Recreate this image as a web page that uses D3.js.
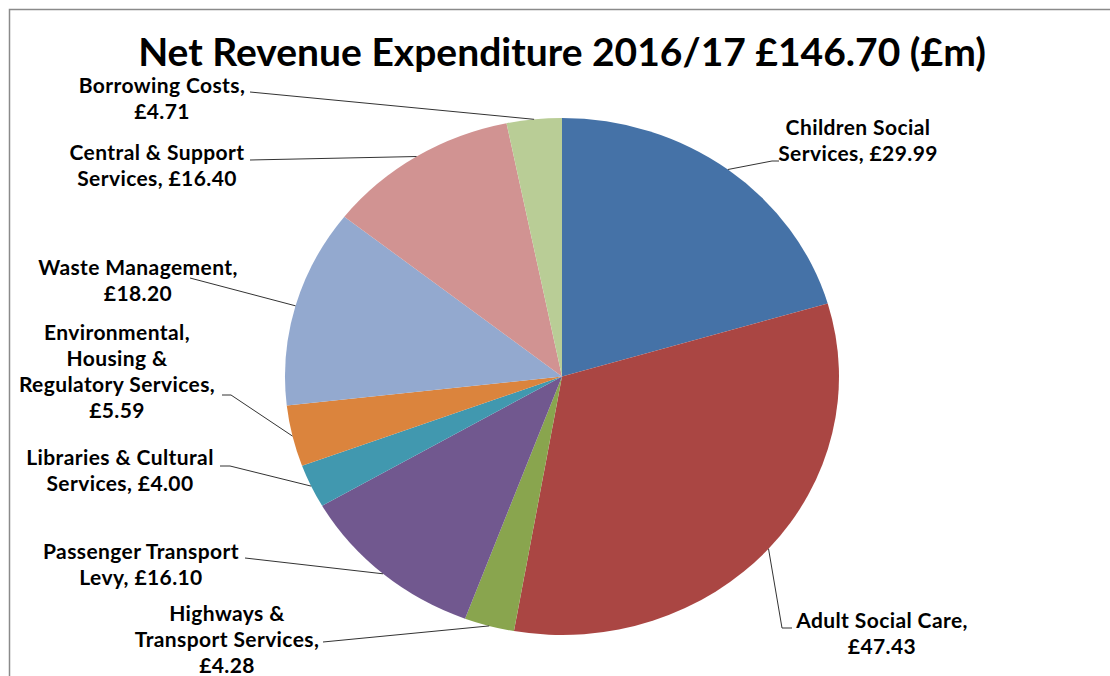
<!DOCTYPE html>
<html>
<head>
<meta charset="utf-8">
<script src="https://cdn.jsdelivr.net/npm/d3@7"></script>
<style>
  body { margin: 0; background: #fff; }
  svg { display: block; }
  .title { font-family: Lato, "Open Sans", sans-serif; font-weight: 700; fill: #000; }
  .label { font-family: Lato, "Open Sans", sans-serif; font-weight: 700; fill: #000; letter-spacing: 0.4px; }
  .leader { fill: none; stroke: #333; stroke-width: 1; }
</style>
</head>
<body>
<svg id="chart" width="1110" height="676"></svg>
<script>
// Data
const categories = [
    "Children Social Services",
    "Adult Social Care",
    "Highways & Transport Services",
    "Passenger Transport Levy",
    "Libraries & Cultural Services",
    "Environmental, Housing & Regulatory Services",
    "Waste Management",
    "Central & Support Services",
    "Borrowing Costs"
];
const values = [29.99, 47.43, 4.28, 16.10, 4.00, 5.59, 18.20, 16.40, 4.71];
const labelLines = [
    ["Children Social", "Services, £29.99"],
    ["Adult Social Care,", "£47.43"],
    ["Highways &", "Transport Services,", "£4.28"],
    ["Passenger Transport", "Levy, £16.10"],
    ["Libraries & Cultural", "Services, £4.00"],
    ["Environmental,", "Housing &", "Regulatory Services,", "£5.59"],
    ["Waste Management,", "£18.20"],
    ["Central & Support", "Services, £16.40"],
    ["Borrowing Costs,", "£4.71"]
];
const colors = ["#4572A7", "#AA4643", "#89A54E", "#71588F", "#4198AF",
                "#DB843D", "#93A9CF", "#D19392", "#B9CD96"];
const titleText = "Net Revenue Expenditure 2016/17 £146.70 (£m)";

// Layout of labels: text centre, first baseline, leader line start points
const labelLayout = [
    { x: 858, y: 135, leader: [[779, 161], [772, 161]] },
    { x: 882, y: 628, leader: [[792, 628], [782, 628]] },
    { x: 227, y: 621, leader: [[323, 642]] },
    { x: 141, y: 559, leader: [[245, 558]] },
    { x: 120, y: 465, leader: [[220, 466], [230, 466]] },
    { x: 117, y: 340, leader: [[222, 395], [231, 395]] },
    { x: 138, y: 275, leader: [[190, 278]] },
    { x: 157, y: 160, leader: [[250, 160]] },
    { x: 162, y: 93, leader: [[250, 92]] }
];

const svg = d3.select("#chart");
const cx = 562, cy = 376.5, rx = 277, ry = 258.5;

// Chart border (cropped at right and bottom)
svg.append("rect")
    .attr("x", 9.5).attr("y", 9.5)
    .attr("width", 1200).attr("height", 800)
    .attr("fill", "none")
    .attr("stroke", "#8a8a8a")
    .attr("stroke-width", 1.5);

// Title
svg.append("text")
    .attr("class", "title")
    .attr("x", cx)
    .attr("y", 66)
    .attr("text-anchor", "middle")
    .style("font-size", "39px")
    .text(titleText);

const data = categories.map((c, i) => ({ name: c, value: values[i], i }));

const pie = d3.pie().sort(null).value(d => d.value);
const arcs = pie(data);

const arc = d3.arc().innerRadius(0).outerRadius(ry);

const pieG = svg.append("g")
    .attr("transform", `translate(${cx},${cy}) scale(${rx / ry},1)`);

pieG.selectAll("path")
    .data(arcs)
    .enter().append("path")
    .attr("d", arc)
    .attr("fill", d => colors[d.data.i]);

// Leader lines: from label to edge of slice at mid angle
const line = d3.line();
svg.selectAll(".leader")
    .data(arcs)
    .enter().append("path")
    .attr("class", "leader")
    .attr("d", d => {
        const mid = (d.startAngle + d.endAngle) / 2;
        const edge = [cx + rx * Math.sin(mid), cy - ry * Math.cos(mid)];
        return line(labelLayout[d.data.i].leader.concat([edge]));
    });

// Labels
const labels = svg.selectAll(".label")
    .data(arcs)
    .enter().append("text")
    .attr("class", "label")
    .attr("text-anchor", "middle")
    .style("font-size", "21px");

labels.each(function(d) {
    const lay = labelLayout[d.data.i];
    d3.select(this).selectAll("tspan")
        .data(labelLines[d.data.i])
        .enter().append("tspan")
        .attr("x", lay.x)
        .attr("y", (t, j) => lay.y + j * 26)
        .text(t => t);
});
</script>
</body>
</html>
